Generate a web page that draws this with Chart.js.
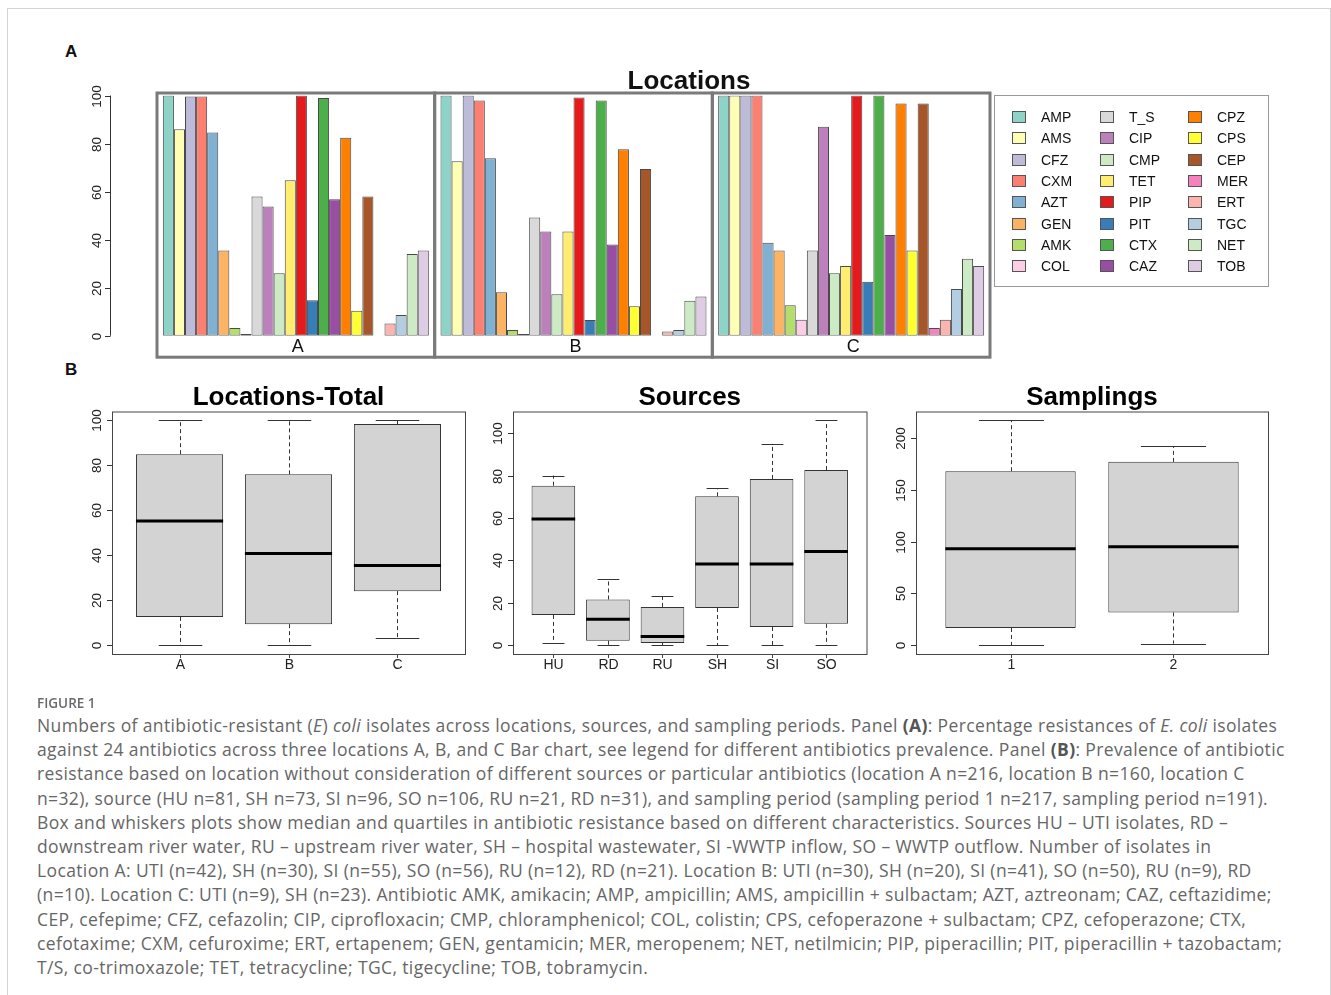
<!DOCTYPE html>
<html>
<head>
<meta charset="utf-8">
<script src="https://cdn.jsdelivr.net/npm/chart.js@4.4.1/dist/chart.umd.min.js"></script>
<style>
  body { margin: 0; background: #fff; width: 1331px; height: 995px; overflow: hidden; position: relative; font-family: "Liberation Sans", Arial, sans-serif; }
  #frame { position: absolute; left: 7px; top: 8px; width: 1322px; height: 1100px; border: 1px solid #d4d4d4; }
  canvas { position: absolute; left: 0; top: 0; }
  .plab { position: absolute; font-weight: bold; font-size: 17px; color: #111; }
  #figlab { position: absolute; left: 37px; top: 694px; font-family: "Open Sans", sans-serif; font-size: 13.5px; font-weight: 600; color: #6a6a6a; }
  #cap { position: absolute; left: 37px; top: 713px; font-family: "Open Sans", sans-serif; font-size: 17.5px; letter-spacing: 0.37px; line-height: 24.2px; color: #666; }
  #cap div { white-space: nowrap; }
  #cap b { font-weight: 700; color: #555; }
</style>
</head>
<body>
<div id="frame"></div>
<div class="plab" style="left:65px;top:42px">A</div>
<div class="plab" style="left:65px;top:360px">B</div>
<canvas id="barChart" width="1331" height="700"></canvas>
<canvas id="locChart" width="1331" height="700"></canvas>
<canvas id="srcChart" width="1331" height="700"></canvas>
<canvas id="sampChart" width="1331" height="700"></canvas>

<div id="figlab">FIGURE 1</div>
<div id="cap">
<div>Numbers of antibiotic-resistant (<i>E</i>) <i>coli</i> isolates across locations, sources, and sampling periods. Panel <b>(A)</b>: Percentage resistances of <i>E. coli</i> isolates</div>
<div>against 24 antibiotics across three locations A, B, and C Bar chart, see legend for different antibiotics prevalence. Panel <b>(B)</b>: Prevalence of antibiotic</div>
<div>resistance based on location without consideration of different sources or particular antibiotics (location A n=216, location B n=160, location C</div>
<div>n=32), source (HU n=81, SH n=73, SI n=96, SO n=106, RU n=21, RD n=31), and sampling period (sampling period 1 n=217, sampling period n=191).</div>
<div>Box and whiskers plots show median and quartiles in antibiotic resistance based on different characteristics. Sources HU – UTI isolates, RD –</div>
<div>downstream river water, RU – upstream river water, SH – hospital wastewater, SI -WWTP inflow, SO – WWTP outflow. Number of isolates in</div>
<div>Location A: UTI (n=42), SH (n=30), SI (n=55), SO (n=56), RU (n=12), RD (n=21). Location B: UTI (n=30), SH (n=20), SI (n=41), SO (n=50), RU (n=9), RD</div>
<div>(n=10). Location C: UTI (n=9), SH (n=23). Antibiotic AMK, amikacin; AMP, ampicillin; AMS, ampicillin + sulbactam; AZT, aztreonam; CAZ, ceftazidime;</div>
<div>CEP, cefepime; CFZ, cefazolin; CIP, ciprofloxacin; CMP, chloramphenicol; COL, colistin; CPS, cefoperazone + sulbactam; CPZ, cefoperazone; CTX,</div>
<div>cefotaxime; CXM, cefuroxime; ERT, ertapenem; GEN, gentamicin; MER, meropenem; NET, netilmicin; PIP, piperacillin; PIT, piperacillin + tazobactam;</div>
<div>T/S, co-trimoxazole; TET, tetracycline; TGC, tigecycline; TOB, tobramycin.</div>
</div>

<script>
// ---- panel A data ----
const antibiotics = ['AMP','AMS','CFZ','CXM','AZT','GEN','AMK','COL','T_S','CIP','CMP','TET',
                     'PIP','PIT','CTX','CAZ','CPZ','CPS','CEP','MER','ERT','TGC','NET','TOB'];
const abColors = ['#8DD3C7','#FFFFB3','#BEBADA','#FB8072','#80B1D3','#FDB462','#B3DE69','#FCCDE5',
                  '#D9D9D9','#BC80BD','#CCEBC5','#FFED6F','#E41A1C','#377EB8','#4DAF4A','#984EA3',
                  '#FF7F00','#FFFF33','#A65628','#F781BF','#FBB4AE','#B3CDE3','#CCEBC5','#DECBE4'];
const locations = ['A','B','C'];
const resistA = [100,86,99.6,99.6,84.6,35.5,3.2,0.7,58,53.8,26,64.7,100,14.8,99,56.8,82.4,10.4,58,0,5.1,8.6,34,35.5];
const resistB = [100,72.6,100,97.9,73.9,18.1,2.4,0.7,49.2,43.4,17.3,43.4,99.2,6.5,97.9,38,77.6,12.3,69.4,0,1.8,2.4,14.5,16.3];
const resistC = [100,100,100,100,38.7,35.5,12.7,6.6,35.5,87,26,29,100,22.5,100,41.9,96.7,35.5,96.7,3.2,6.6,19.4,32,29];
const pctTicks = [0,20,40,60,80,100];

// ---- panel B data (whisker low, Q1, median, Q3, whisker high) ----
const locCats = ['A','B','C'];
const locLow = [0,0,3.3];
const locQ1 = [12.5,9.3,24];
const locMed = [55.2,40.8,35.4];
const locQ3 = [85,76,98.4];
const locHigh = [100,100,100];
const locTicks = [0,20,40,60,80,100];

const srcCats = ['HU','RD','RU','SH','SI','SO'];
const srcLow = [1,0,0,0,0,0];
const srcQ1 = [14.2,2,1,17.5,8.5,10];
const srcMed = [59.5,12.2,4,38.3,38.3,44.1];
const srcQ3 = [75.2,21.5,18,70.2,78.4,82.6];
const srcHigh = [80,31,23,74,95,106];
const srcTicks = [0,20,40,60,80,100];

const sampCats = ['1','2'];
const sampLow = [0,1.3];
const sampQ1 = [16.5,31.5];
const sampMed = [93,95];
const sampQ3 = [168,177];
const sampHigh = [217,192];
const sampTicks = [0,50,100,150,200];

const FONT = '"Liberation Sans", Arial, sans-serif';
const CH = 700, CW = 1331;

function drawYAxis(ctx, y, ticks, axisX, labelX, withLine) {
  ctx.save();
  ctx.strokeStyle = '#333';
  ctx.lineWidth = 1;
  if (withLine) {
    ctx.beginPath();
    ctx.moveTo(axisX + 0.5, y.getPixelForValue(ticks[0]));
    ctx.lineTo(axisX + 0.5, y.getPixelForValue(ticks[ticks.length - 1]));
    ctx.stroke();
  }
  ctx.fillStyle = '#222';
  ctx.font = '13.5px ' + FONT;
  ctx.textAlign = 'center';
  ctx.textBaseline = 'middle';
  ticks.forEach(t => {
    const py = Math.round(y.getPixelForValue(t)) + 0.5;
    ctx.beginPath();
    ctx.moveTo(axisX - 5, py);
    ctx.lineTo(axisX + 0.5, py);
    ctx.stroke();
    ctx.save();
    ctx.translate(labelX, py);
    ctx.rotate(-Math.PI / 2);
    ctx.fillText(String(t), 0, 0);
    ctx.restore();
  });
  ctx.restore();
}

// ---- panel A: grouped bars ----
const groupBoxes = {
  id: 'groupBoxes',
  afterDatasetsDraw(chart) {
    const { ctx, chartArea, scales: { x, y } } = chart;
    const w = chartArea.width / locations.length;
    ctx.save();
    ctx.strokeStyle = '#7a7a7a';
    ctx.lineWidth = 3;
    locations.forEach((loc, i) => {
      const cx = x.getPixelForValue(i);
      ctx.strokeRect(cx - w / 2, chartArea.top - 2.5, w, chartArea.bottom - chartArea.top + 24);
    });
    ctx.fillStyle = '#111';
    ctx.font = '18px ' + FONT;
    ctx.textAlign = 'center';
    ctx.textBaseline = 'middle';
    locations.forEach((loc, i) => ctx.fillText(loc, x.getPixelForValue(i) + 2, chartArea.bottom + 11));
    ctx.font = 'bold 26px ' + FONT;
    ctx.fillText('Locations', 689, chartArea.top - 14);
    ctx.restore();

    drawYAxis(ctx, y, pctTicks, 110, 97, true);

    // legend
    ctx.save();
    ctx.strokeStyle = '#9a9a9a';
    ctx.lineWidth = 1;
    ctx.strokeRect(994.5, 95.5, 274, 191);
    ctx.font = '14px ' + FONT;
    ctx.textAlign = 'left';
    ctx.textBaseline = 'middle';
    const colX = [1012, 1100, 1188];
    antibiotics.forEach((ab, i) => {
      const col = Math.floor(i / 8), row = i % 8;
      const sy = Math.round(117 + row * 21.3);
      ctx.fillStyle = abColors[i];
      ctx.fillRect(colX[col], sy - 6, 14, 12);
      ctx.strokeStyle = '#555';
      ctx.strokeRect(colX[col] + 0.5, sy - 5.5, 13, 11);
      ctx.fillStyle = '#111';
      ctx.fillText(ab, colX[col] + 29, sy + 1);
    });
    ctx.restore();
  }
};

new Chart(document.getElementById('barChart'), {
  type: 'bar',
  data: {
    labels: locations,
    datasets: antibiotics.map((ab, i) => ({
      label: ab,
      data: [resistA[i], resistB[i], resistC[i]],
      backgroundColor: abColors[i],
      borderColor: '#4a4a4a',
      borderWidth: 1,
      borderSkipped: false,
      categoryPercentage: 0.958,
      barPercentage: 1
    }))
  },
  options: {
    responsive: false,
    animation: false,
    layout: { padding: { left: 157, right: CW - 990, top: 95.5, bottom: CH - 335.7 } },
    plugins: { legend: { display: false }, tooltip: { enabled: false } },
    scales: {
      x: { display: false },
      y: { display: false, min: 0, max: 100 }
    }
  },
  plugins: [groupBoxes]
});

// ---- panel B: box plots (R style) ----
function boxplot(id, title, cats, low, q1, med, q3, high, ticks, frame) {
  const n = cats.length;
  const lo = Math.min(...low), hi = Math.max(...high);
  const ext = (hi - lo) * 0.04;
  const unit = (frame.right - frame.left) / (n * 1.08);
  const inset = 0.04 * n * unit;

  const boxExtras = {
    id: 'boxExtras' + id,
    afterDatasetsDraw(chart) {
      const { ctx, scales: { x, y } } = chart;
      const meta = chart.getDatasetMeta(0);
      ctx.save();
      cats.forEach((c, i) => {
        const bar = meta.data[i];
        const cx = Math.round(bar.x) + 0.5;
        const bw = bar.width;
        ctx.strokeStyle = '#333';
        ctx.lineWidth = 1;
        ctx.setLineDash([4, 3]);
        ctx.beginPath();
        ctx.moveTo(cx, y.getPixelForValue(q3[i]));
        ctx.lineTo(cx, y.getPixelForValue(high[i]));
        ctx.moveTo(cx, y.getPixelForValue(q1[i]));
        ctx.lineTo(cx, y.getPixelForValue(low[i]));
        ctx.stroke();
        ctx.setLineDash([]);
        ctx.beginPath();
        [high[i], low[i]].forEach(v => {
          const py = Math.round(y.getPixelForValue(v)) + 0.5;
          ctx.moveTo(cx - bw / 4, py);
          ctx.lineTo(cx + bw / 4, py);
        });
        ctx.stroke();
        ctx.strokeStyle = '#000';
        ctx.lineWidth = 3;
        ctx.beginPath();
        const pm = y.getPixelForValue(med[i]);
        ctx.moveTo(bar.x - bw / 2, pm);
        ctx.lineTo(bar.x + bw / 2, pm);
        ctx.stroke();
      });
      // frame
      ctx.strokeStyle = '#444';
      ctx.lineWidth = 1;
      ctx.strokeRect(frame.left + 0.5, frame.top + 0.5, frame.right - frame.left, frame.bottom - frame.top);
      // x labels + ticks
      ctx.fillStyle = '#222';
      ctx.font = '14px ' + FONT;
      ctx.textAlign = 'center';
      ctx.textBaseline = 'middle';
      cats.forEach((c, i) => {
        const px = Math.round(x.getPixelForValue(i)) + 0.5;
        ctx.beginPath();
        ctx.moveTo(px, frame.bottom);
        ctx.lineTo(px, frame.bottom + 4);
        ctx.stroke();
        ctx.fillText(c, px, frame.bottom + 11);
      });
      ctx.font = 'bold 26px ' + FONT;
      ctx.fillStyle = '#000';
      ctx.fillText(title, (frame.left + frame.right) / 2, frame.top - 14);
      ctx.restore();
      drawYAxis(ctx, y, ticks, frame.left, frame.left - 15, false);
    }
  };

  new Chart(document.getElementById(id), {
    type: 'bar',
    data: {
      labels: cats,
      datasets: [{
        data: cats.map((c, i) => [q1[i], q3[i]]),
        backgroundColor: '#D3D3D3',
        borderColor: '#333',
        borderWidth: 1,
        borderSkipped: false,
        categoryPercentage: 0.8,
        barPercentage: 1
      }]
    },
    options: {
      responsive: false,
      animation: false,
      layout: { padding: { left: frame.left + inset, right: CW - frame.right + inset, top: frame.top, bottom: CH - frame.bottom } },
      plugins: { legend: { display: false }, tooltip: { enabled: false } },
      scales: {
        x: { display: false },
        y: { display: false, min: lo - ext, max: hi + ext }
      }
    },
    plugins: [boxExtras]
  });
}

boxplot('locChart', 'Locations-Total', locCats, locLow, locQ1, locMed, locQ3, locHigh, locTicks,
        { left: 112, right: 465, top: 411.5, bottom: 654 });
boxplot('srcChart', 'Sources', srcCats, srcLow, srcQ1, srcMed, srcQ3, srcHigh, srcTicks,
        { left: 513, right: 866.5, top: 411.5, bottom: 654 });
boxplot('sampChart', 'Samplings', sampCats, sampLow, sampQ1, sampMed, sampQ3, sampHigh, sampTicks,
        { left: 916, right: 1268, top: 411.5, bottom: 654 });
</script>
</body>
</html>
